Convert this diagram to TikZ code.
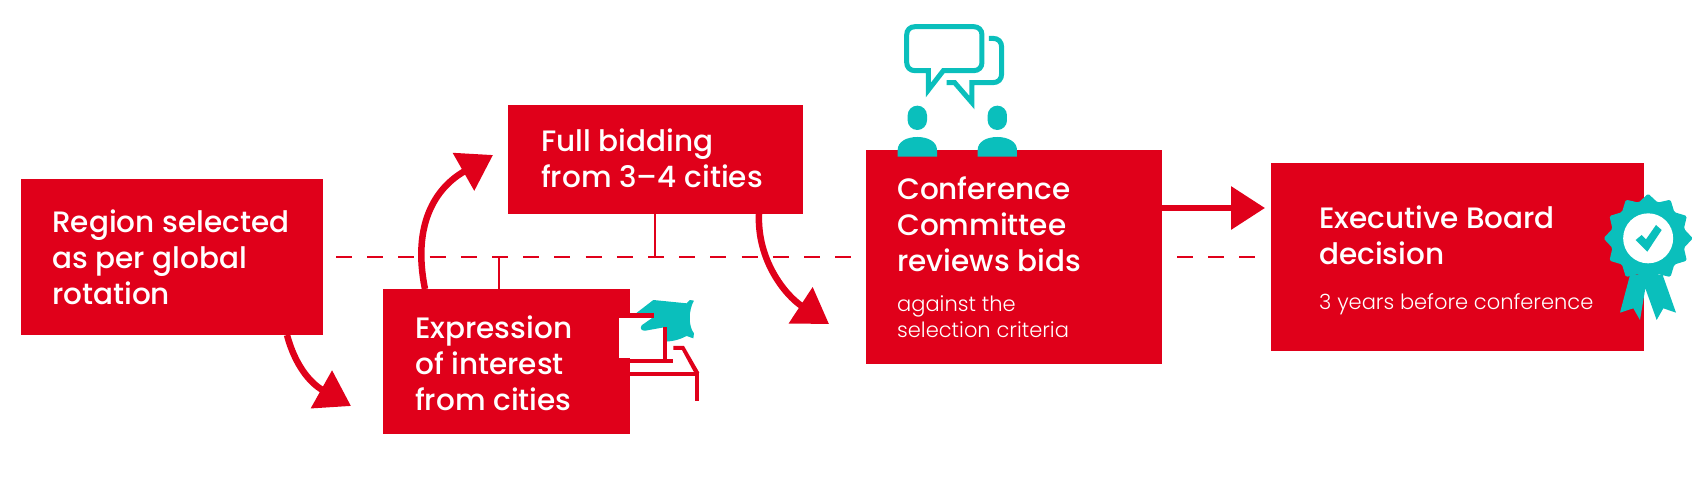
\documentclass[tikz,border=0pt]{standalone}
\usepackage{fontspec}
\setmainfont{Poppins Medium}
\newfontfamily\lightf{Poppins Light}
\usetikzlibrary{arrows.meta,calc}
\definecolor{cred}{HTML}{E0001A}
\definecolor{cteal}{HTML}{0ABFBC}
\tikzset{
 box/.style={fill=cred,draw=none,anchor=north west,inner sep=0pt,outer sep=0pt},
 title/.style={text=white,anchor=north west,inner sep=0pt,align=left,font=\fontsize{29.5}{36}\selectfont},
 sub/.style={text=white,anchor=north west,inner sep=0pt,align=left,font=\lightf\fontsize{21}{26}\selectfont},
 flow/.style={cred,line width=6.5pt,-{Triangle[length=34pt,width=42pt]}},
 tick/.style={cred,line width=1.6pt},
 guide/.style={cred,line width=1.6pt,dash pattern=on 16pt off 15.2pt},
 tealline/.style={cteal,line width=5pt,line join=miter,miter limit=20,fill=none},
}
\begin{document}
\begin{tikzpicture}[x=1pt,y=-1pt]
\useasboundingbox (0,0) rectangle (1706,480);
% guide line
\coordinate (g1) at (336,257); \coordinate (g2) at (853,257);
\coordinate (g3) at (1177,257); \coordinate (g4) at (1257,257);
\draw[guide] (g1) -- (g2);
\draw[guide] (g3) -- (g4);
% boxes
\node[box,minimum width=302pt,minimum height=156pt] (r1) at (21,179) {};
\node[box,minimum width=247pt,minimum height=145pt] (r2) at (383,289) {};
\node[box,minimum width=295pt,minimum height=109pt] (r3) at (508,105) {};
\node[box,minimum width=296pt,minimum height=214pt] (r4) at (866,150) {};
\node[box,minimum width=373pt,minimum height=188pt] (r5) at (1271,163) {};
% ticks
\coordinate (t2) at (499,257); \coordinate (t3) at (655,257);
\draw[tick] (r2.north west -| t2) -- (t2);
\draw[tick] (r3.south west -| t3) -- (t3);
% arrows
\coordinate (e1) at (351,406);
\coordinate (e2) at (493,155);
\coordinate (e3) at (829,324);
\coordinate (e4) at (1265,208);
\draw[flow] ([xshift=-36pt]r1.south east) .. controls (295,365) and (310,383) .. (e1);
\draw[flow] ([xshift=42pt]r2.north west) .. controls (412,225) and (435,188) .. (e2);
\draw[flow] ([xshift=-44pt]r3.south east) .. controls (757,260) and (785,295) .. (e3);
\draw[flow] ([yshift=-58pt]r4.north east) -- (e4);
% text
\node[title] (l1) at (52,209.5) {Region selected\\as per global\\rotation};
\node[title] (l2) at (415,316) {Expression\\of interest\\from cities};
\node[title] (l3) at (541,129) {Full bidding\\from 3–4 cities};
\node[title] (l4) at (897,176.5) {Conference\\Committee\\reviews bids};
\node[sub] (s4) at (897,296) {against the\\selection criteria};
\node[title] (l5) at (1319,206) {Executive Board\\decision};
\node[sub] (s5) at (1319,293) {3 years before conference};
% computer icon
\begin{scope}[shift={(540,250)},x=0.3333pt,y=-0.3333pt]
\fill[cteal] (288,190) -- (340,150) -- (440,160) -- (450,150) -- (462,152) .. controls (445,180) and (445,230) .. (462,250) -- (460,265) -- (440,258) .. controls (420,268) and (400,275) .. (368,275) -- (368,232) -- cycle;
\fill[white] (238,205) rectangle (368,325);
\fill[cteal] (342,200) -- (305,226) .. controls (298,236) and (306,243) .. (316,242) -- (372,232) -- (372,190) -- cycle;
\fill[cred] (270,190) rectangle (342,205);
\fill[cred] (368,232) rectangle (382,340);
\fill[cred] (270,327) rectangle (400,340);
\fill[cred] (270,365) rectangle (478,378);
\fill[cred] (465,370) rectangle (478,453);
\fill[cred] (400,288) -- (432,288) -- (478,368) -- (465,372) -- (426,300) -- (400,300) -- cycle;
\end{scope}
% talk icon
\begin{scope}[shift={(860,10)},x=0.3333pt,y=-0.3333pt]
\draw[tealline] (205,182) -- (165,182) .. controls (150,182) and (140,172) .. (140,157) -- (140,75) .. controls (140,60) and (150,50) .. (165,50) -- (341,50) .. controls (356,50) and (366,60) .. (366,75) -- (366,157) .. controls (366,172) and (356,182) .. (341,182) -- (250,182) -- (205,240) -- cycle;
\draw[tealline] (387,85) -- (398,85) .. controls (415,85) and (425,95) .. (425,112) -- (425,191) .. controls (425,208) and (415,218) .. (398,218) -- (336,218) -- (336,278) -- (284,218) -- (260,218);
\fill[cteal,rounded corners=9.6pt] (143,287) rectangle (201,360);
\fill[cteal,rounded corners=9.6pt] (383,287) rectangle (441,360);
\fill[cteal] (113,440) -- (113,420) .. controls (113,395) and (140,381) .. (172,381) .. controls (204,381) and (231,395) .. (231,420) -- (231,440) -- cycle;
\fill[cteal] (353,440) -- (353,420) .. controls (353,395) and (380,381) .. (412,381) .. controls (444,381) and (471,395) .. (471,420) -- (471,440) -- cycle;
\end{scope}
% award icon
\begin{scope}[shift={(1560,170)},x=0.3333pt,y=-0.3333pt]
\fill[cteal] (210,315) -- (180,428) -- (220,415) -- (240,450) -- (256,355) -- (290,450) -- (310,415) -- (348,428) -- (308,315) -- cycle;
\fill[cteal,rounded corners=1.5pt] ($(264.5,205)+(90:134)$)
 \foreach \a in {0,30,...,330}{ -- ($(264.5,205)+(\a+105:111)$) -- ($(264.5,205)+(\a+120:134)$)} -- cycle;
\fill[white] (264.5,205) circle[radius=75];
\fill[cteal] (227,210) -- (245,195) -- (258,208) -- (288,165) -- (305,180) -- (262,245) -- cycle;
\end{scope}
\end{tikzpicture}
\end{document}
